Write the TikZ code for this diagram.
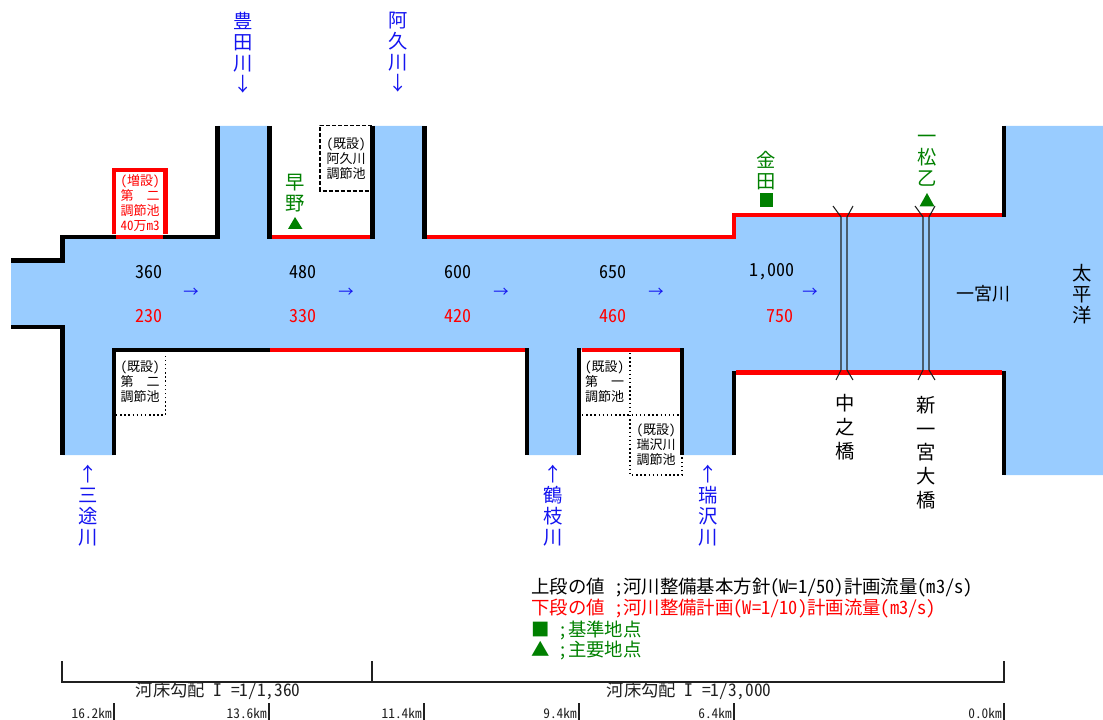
\documentclass[tikz,border=0pt]{standalone}
\usepackage{fontspec}
\setmainfont[RawFeature={+hwid}]{Noto Sans CJK JP}
\definecolor{RIVwater}{HTML}{99CCFF}
\definecolor{RIVred}{HTML}{FF0000}
\definecolor{RIVgreen}{HTML}{008000}
\definecolor{RIVblue}{HTML}{1414F0}
\definecolor{RIVgray}{HTML}{202020}
\tikzset{
   bank/.style={line width=3.6pt, miter limit=10},
   redbank/.style={bank, RIVred},
   bridge/.style={line width=0.8pt, RIVgray},
   tate/.style={inner sep=0pt, align=center, font=\fontsize{14.5}{15.75}\selectfont},
   tatewide/.style={inner sep=0pt, align=center, font=\fontsize{14.5}{17.8}\selectfont},
   small/.style={inner sep=0pt, align=center, font=\fontsize{9.75}{11.4}\selectfont},
   flow/.style={inner sep=0pt, font=\fontsize{13.5}{16}\selectfont},
   flowmark/.style={inner sep=0pt, font=\fontsize{11.5}{14}\selectfont, RIVblue},
   legend/.style={inner sep=0pt, anchor=west, font=\fontsize{13.8}{16}\selectfont},
   slope/.style={inner sep=0pt, font=\fontsize{13}{15}\selectfont, RIVgray},
   kmlabel/.style={inner sep=0pt, anchor=east, font=\fontsize{10}{12}\selectfont, RIVgray}
}

\begin{document}
\begin{tikzpicture}[x=0.75pt, y=-0.75pt]
   \useasboundingbox (0,0) rectangle (1103,720);
   % Water
   \fill[RIVwater] (11,260.5) -- (62.5,260.5) -- (62.5,237) -- (217.5,237) -- (217.5,126)
      -- (269.5,126) -- (269.5,237) -- (372.5,237) -- (372.5,126) -- (424.5,126)
      -- (424.5,237) -- (734,237) -- (734,215) -- (1004,215) -- (1004,126) -- (1103,126)
      -- (1103,475) -- (1004,475) -- (1004,372.5) -- (734,372.5) -- (734,455) -- (682,455)
      -- (682,350) -- (579,350) -- (579,455) -- (527,455) -- (527,350) -- (114,350)
      -- (114,455) -- (62.5,455) -- (62.5,327) -- (11,327) -- cycle;
   % Existing basins (dashed and dotted)
   \draw[line width=1.1pt, dash pattern=on 3pt off 1.5pt] (372,125.5) -- (320,125.5) -- (320,191) -- (372,191);
   \draw[line width=1.1pt, dotted] (116,415) -- (165.5,415) -- (165.5,353);
   \draw[line width=1.1pt, dotted] (630,353) -- (630,475) -- (682,475) -- (682,455);
   \draw[line width=1.1pt, dotted] (582,415) -- (680,415);
   % Banks, black
   \draw[bank] (11,260.5) -- (62.5,260.5) -- (62.5,237) -- (116,237);
   \draw[bank] (163,237) -- (217.5,237) -- (217.5,126);
   \draw[bank] (269.5,126) -- (269.5,239);
   \draw[bank] (372.5,126) -- (372.5,239);
   \draw[bank] (424.5,126) -- (424.5,239);
   \draw[bank] (1004,126) -- (1004,217);
   \draw[bank] (11,327) -- (62.5,327) -- (62.5,455);
   \draw[bank] (114,455) -- (114,350) -- (269.5,350);
   \draw[bank] (527,455) -- (527,348);
   \draw[bank] (579,455) -- (579,348);
   \draw[bank] (682,455) -- (682,348);
   \draw[bank] (734,455) -- (734,370.5);
   \draw[bank] (1004,475) -- (1004,370.5);
   % Banks, red
   \draw[redbank] (116,237) -- (163,237);
   \draw[redbank] (114,234.5) -- (114,170) -- (165.5,170) -- (165.5,234.5);
   \draw[redbank] (272,237) -- (370,237);
   \draw[redbank] (427,237) -- (734,237) -- (734,215) -- (1002,215);
   \draw[redbank] (269.5,350) -- (524.5,350);
   \draw[redbank] (581.5,350) -- (679.5,350);
   \draw[redbank] (736,372.5) -- (1002,372.5);
   % Bridges
   \foreach \x in {841,923} {
      \draw[bridge] (\x-8,206) -- (\x,217) -- (\x,370) -- (\x-5,380);
      \draw[bridge] (\x+12,206) -- (\x+6,217) -- (\x+6,370) -- (\x+12,380);
   }
   % Flow values
   \foreach \x/\upper/\lower in {149/360/230, 303/480/330, 458/600/420, 613/650/460} {
      \node[flow] (upper\upper) at (\x,272) {\upper};
      \node[flow, RIVred] (lower\lower) at (\x,316) {\lower};
   }
   \node[flow] (upper1000) at (771.5,272) {1,000};
   \node[flow, RIVred] (lower750) at (780,316) {750};
   \foreach \x in {191,346,501,656,810} {
      \node[flowmark] (flow\x) at (\x,293) {→};
   }
   % Tributaries
   \node[tate, RIVblue] (toyotagawa) at (243,52.5) {豊\\田\\川\\↓};
   \node[tate, RIVblue] (akugawa) at (398,52.5) {阿\\久\\川\\↓};
   \node[tate, RIVblue] (sanzugawa) at (88,505.5) {↑\\三\\途\\川};
   \node[tate, RIVblue] (tsurugawa) at (553,505.5) {↑\\鶴\\枝\\川};
   \node[tate, RIVblue] (mizusawagawa) at (708,505.5) {↑\\瑞\\沢\\川};
   % Points
   \node[tate, RIVgreen] (hayano) at (295,193) {早\\野};
   \fill[RIVgreen] (288,229) -- (295,217) -- (302.5,229) -- cycle;
   \node[tate, RIVgreen] (kaneda) at (766,170.5) {金\\田};
   \fill[RIVgreen] (759.5,193) rectangle (773,207);
   \node[tate, RIVgreen] (ichimatsu) at (927,160.5) {一\\松\\乙};
   \fill[RIVgreen] (919.5,206.5) -- (927,193) -- (934.5,206.5) -- cycle;
   % Bridge, river and sea names
   \node[tatewide] (nakanohashi) at (845,427) {中\\之\\橋};
   \node[tatewide] (shinichinomiya) at (926,452.5) {新\\一\\宮\\大\\橋};
   \node[flow] (ichinomiyagawa) at (983,294) {一宮川};
   \node[tate] (taiheiyo) at (1082,294) {太\\平\\洋};
   % Basins
   \node[small, RIVred] (basinadd) at (140,203) {（増設）\\第\quad 二\\調節池\\40万m3};
   \node[small] (basinaku) at (346,159) {（既設）\\阿久川\\調節池};
   \node[small] (basinsecond) at (140,382) {（既設）\\第\quad 二\\調節池};
   \node[small] (basinfirst) at (604.5,382) {（既設）\\第\quad 一\\調節池};
   \node[small] (basinmizu) at (656,444.5) {（既設）\\瑞沢川\\調節池};
   % Legend
   \node[legend] (legendupper) at (531,588) {上段の値 ；河川整備基本方針(W=1/50)計画流量(m3/s)};
   \node[legend, RIVred] (legendlower) at (531,609) {下段の値 ；河川整備計画(W=1/10)計画流量(m3/s)};
   \node[legend, RIVgreen] (legendbase) at (531,630) {■ ；基準地点};
   \node[legend, RIVgreen] (legendmain) at (531,651) {▲ ；主要地点};
   % Slope brackets
   \draw[line width=1.1pt, RIVgray] (62,661) -- (62,682) -- (1004,682) -- (1004,661);
   \draw[line width=1.1pt, RIVgray] (372,661) -- (372,682);
   \node[slope] (slopeupper) at (218,691) {河床勾配 I =1/1,360};
   \node[slope] (slopelower) at (689,691) {河床勾配 I =1/3,000};
   % Distance marks
   \foreach \x/\km in {114/16.2km, 269/13.6km, 424/11.4km, 579/9.4km, 734/6.4km, 1004/0.0km} {
      \draw[line width=1.1pt, RIVgray] (\x,703) -- (\x,720);
      \node[kmlabel] (mark\x) at (\x-2,713) {\km};
   }
\end{tikzpicture}
\end{document}
